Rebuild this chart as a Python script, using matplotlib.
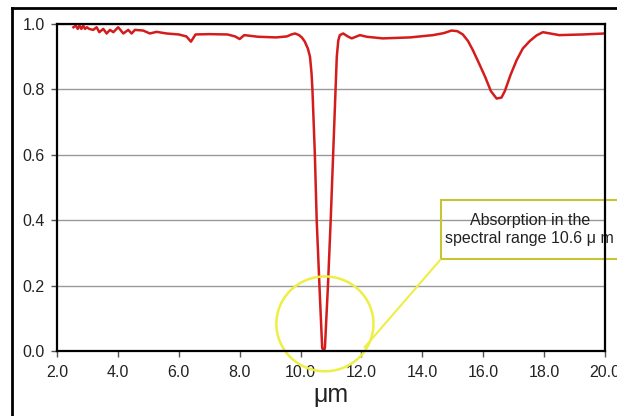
import numpy as np
import matplotlib
matplotlib.use("Agg")
import matplotlib.pyplot as plt
from matplotlib.patches import Ellipse, Rectangle
from matplotlib.lines import Line2D

plt.rcParams['font.family'] = ['Liberation Sans', 'DejaVu Sans']

# transmission curve
wavelength = [2.54, 2.62, 2.68, 2.74, 2.80, 2.86, 2.92, 2.98, 3.06, 3.19,
              3.30, 3.39, 3.52, 3.63, 3.74, 3.85, 4.01, 4.18, 4.34, 4.45,
              4.56, 4.83, 5.05, 5.27, 5.60, 6.00, 6.25, 6.40, 6.55, 7.00,
              7.60, 7.85, 8.00, 8.15, 8.60, 9.20, 9.55, 9.70, 9.82, 9.95,
              10.05, 10.14, 10.24, 10.31, 10.36, 10.39, 10.47, 10.53, 10.62,
              10.71, 10.76, 10.80, 10.90, 10.99, 11.07, 11.15, 11.19, 11.24,
              11.29, 11.40, 11.55, 11.68, 11.95, 12.17, 12.70, 13.60, 14.35,
              14.70, 14.96, 15.15, 15.33, 15.50, 15.66, 15.86, 16.06, 16.25,
              16.44, 16.60, 16.71, 16.90, 17.10, 17.30, 17.53, 17.75, 17.96,
              18.50, 19.27, 20.00]
transmission = [0.990, 0.995, 0.985, 0.995, 0.985, 0.995, 0.985, 0.990, 0.985, 0.982,
                0.990, 0.975, 0.985, 0.971, 0.982, 0.975, 0.990, 0.971, 0.982, 0.971,
                0.982, 0.980, 0.971, 0.976, 0.971, 0.968, 0.962, 0.946, 0.968, 0.969,
                0.968, 0.962, 0.954, 0.966, 0.961, 0.959, 0.962, 0.968, 0.971, 0.966,
                0.958, 0.946, 0.925, 0.900, 0.850, 0.800, 0.600, 0.400, 0.200,
                0.010, 0.000, 0.010, 0.200, 0.400, 0.600, 0.800, 0.900, 0.950,
                0.966, 0.971, 0.962, 0.956, 0.966, 0.961, 0.956, 0.959, 0.966,
                0.972, 0.980, 0.978, 0.968, 0.948, 0.920, 0.880, 0.839, 0.795,
                0.772, 0.775, 0.795, 0.845, 0.890, 0.925, 0.948, 0.965, 0.975,
                0.966, 0.968, 0.971]

x_ticks = [2.0, 4.0, 6.0, 8.0, 10.0, 12.0, 14.0, 16.0, 18.0, 20.0]
y_ticks = [0.0, 0.2, 0.4, 0.6, 0.8, 1.0]
note_text = "Absorption in the\nspectral range 10.6 \u03bc m"

fig = plt.figure(figsize=(6.17, 4.16), dpi=100)
ax = fig.add_axes([57 / 617, 65 / 416, 548 / 617, 327 / 416])

ax.plot(wavelength, transmission, color='#d41c1c', linewidth=1.8,
        solid_joinstyle='round', zorder=3)

ax.set_xlim(2.0, 20.0)
ax.set_ylim(0.0, 1.0)
ax.set_xticks(x_ticks)
ax.set_yticks(y_ticks)
ax.set_xticklabels([f"{v:.1f}" for v in x_ticks])
ax.set_yticklabels([f"{v:.1f}" for v in y_ticks])
ax.tick_params(axis='both', direction='out', length=4, width=1,
               color='#555555', labelsize=11.5, labelcolor='#222222')
ax.tick_params(axis='x', pad=6)
ax.tick_params(axis='y', pad=5)
ax.set_xlabel("\u03bcm", fontsize=18, labelpad=2, color='#222222')

ax.grid(axis='y', color='#999999', linewidth=1)
ax.set_axisbelow(True)
for sp in ax.spines.values():
    sp.set_linewidth(1.6)
    sp.set_color('black')
    sp.set_zorder(5)

# yellow circle around the absorption dip
ax.add_patch(Ellipse((10.80, 0.083), 3.19, 0.29, fill=False,
                     edgecolor='#eeee44', linewidth=1.8, clip_on=False, zorder=4))
ax.add_line(Line2D([12.11, 14.61], [0.012, 0.281], color='#eeee44',
                   linewidth=1.5, clip_on=False, zorder=4))
ax.add_patch(Rectangle((14.61, 0.281), 6.0, 0.181, fill=False,
                       edgecolor='#c8c434', linewidth=1.5, clip_on=False, zorder=4))
ax.text(17.53, 0.372, note_text, ha='center', va='center', fontsize=11.5,
        color='#222222', linespacing=1.3, zorder=4)

# outer frame of the picture
fig.add_artist(Line2D([12 / 617, 12 / 617], [0, 1 - 8 / 416],
                      transform=fig.transFigure, color='black', linewidth=2))
fig.add_artist(Line2D([12 / 617, 1], [1 - 8 / 416, 1 - 8 / 416],
                      transform=fig.transFigure, color='black', linewidth=2))

fig.savefig("out.png", dpi=100)
